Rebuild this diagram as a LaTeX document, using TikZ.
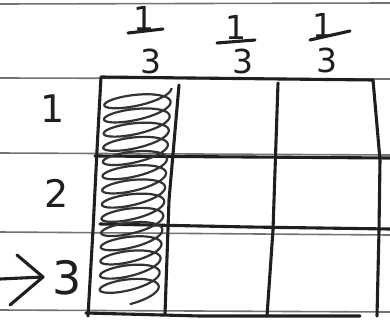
\documentclass[tikz,border=0pt]{standalone}
\usepackage{fontspec}
\setmainfont{DejaVu Sans}
\begin{document}
\begin{tikzpicture}[x=1pt,y=-1pt,
  ruled/.style={draw=black!55, line width=1.6pt},
  ink/.style={draw=black!88, line width=3.1pt, line cap=round, line join=round},
  coil/.style={draw=black!80, line width=2.2pt},
  lab/.style={inner sep=0pt, text=black!88},
  small/.style={lab, font=\fontsize{33}{33}\selectfont},
  big/.style={lab, font=\fontsize{38}{38}\selectfont}]
\useasboundingbox (0,0) rectangle (390,321);
\fill[white] (0,0) rectangle (390,321);
% ruled paper lines
\draw[ruled] (0,4) -- (390,3);
\draw[ruled] (0,78) -- (390,79);
\draw[ruled] (0,153) -- (390,155);
\draw[ruled] (0,232) -- (390,235);
\draw[ruled] (0,310) -- (390,312);
% grid corners
\coordinate (tl) at (101,77);
\coordinate (tr) at (373,80);
\coordinate (bl) at (88,316);
\coordinate (br) at (360,316);
% outer box and grid lines
\draw[ink] (bl) -- (93,230) -- (97,150) -- (tl) -- (tr);
\draw[ink] (tr) -- (380,160) -- (379,230) -- (377,316);
\draw[ink] (86,313) -- (200,316) -- (br);
\draw[ink] (179,85) -- (169,200) -- (165,314);
\draw[ink] (278,83) -- (273,230) -- (267,316);
\draw[ink] (95,156) -- (250,157) -- (390,158);
\draw[ink] (100,224) -- (250,227) -- (390,229);
% coil
\draw[coil] plot[domain=0:14.25, samples=1200, variable=\u]
  ({138 - 9*\u/14.25 + (33.5 - 4*\u/14.25)*cos(360*\u)}, {93 + 14.2*\u + 9*sin(360*\u) - 5*cos(360*\u)});
% row labels
\node[big] (r1) at (53,109) {1};
\node[big] (r2) at (57,193) {2};
\node[big, font=\fontsize{46}{46}\selectfont] (r3) at (67,278) {3};
% arrow to row 3
\coordinate (atail) at (0,279);
\coordinate (atip) at (43,277);
\coordinate (au) at (17,255);
\coordinate (ad) at (10,305);
\draw[ink] (atail) -- (atip);
\draw[ink] (au) -- (atip) -- (ad);
% fractions
\node[small] (n1) at (144,18) {1};
\coordinate (b1a) at (128,33);
\coordinate (b1b) at (163,29);
\draw[ink] (b1a) -- (b1b);
\node[small] (d1) at (151,61) {3};
\node[small] (n2) at (236,27) {1};
\coordinate (b2a) at (217,43);
\coordinate (b2b) at (255,40);
\draw[ink] (b2a) -- (b2b);
\node[small] (d2) at (243,61) {3};
\node[small] (n3) at (323,25) {1};
\coordinate (b3a) at (310,40);
\coordinate (b3b) at (350,31);
\draw[ink] (b3a) -- (b3b);
\node[small] (d3) at (327,60) {3};
\end{tikzpicture}
\end{document}
